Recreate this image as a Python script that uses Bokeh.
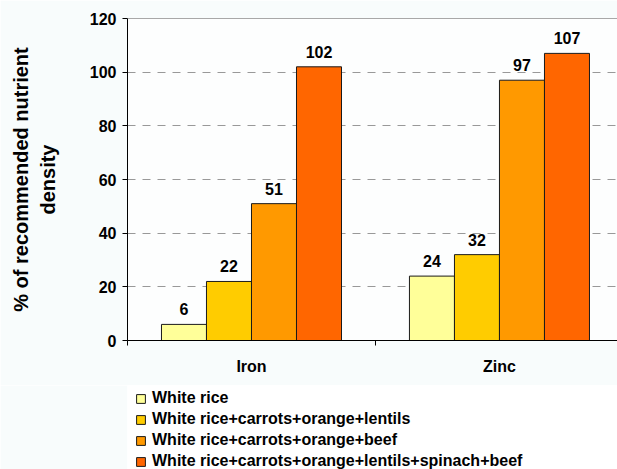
import numpy as np
from bokeh.plotting import figure
from bokeh.layouts import column
from bokeh.models import (ColumnDataSource, Range1d, FixedTicker, Span,
                          LabelSet, Legend, LegendItem)
from bokeh.core.properties import value
from bokeh.embed import file_html
from bokeh.resources import INLINE

# Nutrient density data, % of recommended
nutrients = ["Iron", "Zinc"]
diets = [
    "White rice",
    "White rice+carrots+orange+lentils",
    "White rice+carrots+orange+beef",
    "White rice+carrots+orange+lentils+spinach+beef",
]
iron = [6, 22, 51, 102]
zinc = [24, 32, 97, 107]
diet_colors = ["#FFFF99", "#FFCC00", "#FF9900", "#FF6600"]
y_ticks = [0, 20, 40, 60, 80, 100, 120]

FONT = "Liberation Sans"
BAR_W = 0.1815          # width of one bar in category units
X_END = 1.976           # plot area runs slightly past the last category
BG = "#f8fcfc"
BAR_LINE = "#1a1a1a"

p = figure(width=617, height=385, output_backend="svg", toolbar_location=None,
           x_range=Range1d(0, X_END), y_range=Range1d(0, 120),
           min_border_left=127, min_border_right=0,
           min_border_top=18, min_border_bottom=45)
p.border_fill_color = BG
p.background_fill_color = "#fdfefe"
p.outline_line_color = None

values_by_nutrient = [iron, zinc]
for i, (diet, color) in enumerate(zip(diets, diet_colors)):
    xs = [k + 0.5 + (i - 1.5) * BAR_W for k in range(len(nutrients))]
    tops = [vals[i] for vals in values_by_nutrient]
    src = ColumnDataSource(dict(x=xs, top=tops, label=[str(v) for v in tops]))
    p.vbar(x="x", top="top", width=BAR_W, source=src,
           fill_color=color, line_color=BAR_LINE, line_width=1)
    p.add_layout(LabelSet(x="x", y="top", text="label", source=src,
                          y_offset=9, text_align="center", text_baseline="bottom",
                          text_font=value(FONT), text_font_size="16px",
                          text_font_style="bold", text_color="#000000"))

# Y axis
yax = p.yaxis[0]
yax.ticker = FixedTicker(ticks=y_ticks)
yax.major_tick_out = 5
yax.major_tick_in = 0
yax.minor_tick_out = 0
yax.minor_tick_in = 0
yax.major_tick_line_color = "#000000"
yax.axis_line_color = "#000000"
yax.major_label_standoff = 6
yax.major_label_text_font = FONT
yax.major_label_text_font_size = "16px"
yax.major_label_text_font_style = "bold"
yax.major_label_text_color = "#000000"
yax.axis_label = "% of recommended nutrient\ndensity"
yax.axis_label_text_font = FONT
yax.axis_label_text_font_size = "20px"
yax.axis_label_text_font_style = "bold"
yax.axis_label_text_color = "#000000"
yax.axis_label_standoff = 28

# X axis: category names between boundary ticks
xax = p.xaxis[0]
xax.ticker = FixedTicker(ticks=[k + 0.5 for k in range(len(nutrients))],
                         minor_ticks=list(range(len(nutrients) + 1)))
xax.major_label_overrides = {k + 0.5: n for k, n in enumerate(nutrients)}
xax.major_tick_out = 0
xax.major_tick_in = 0
xax.minor_tick_out = 5
xax.minor_tick_in = 0
xax.minor_tick_line_color = "#000000"
xax.axis_line_color = "#000000"
xax.major_label_standoff = 12
xax.major_label_text_font = FONT
xax.major_label_text_font_size = "16px"
xax.major_label_text_font_style = "bold"
xax.major_label_text_color = "#000000"

# Grid
p.xgrid.visible = False
p.ygrid.ticker = FixedTicker(ticks=y_ticks[1:-1])
p.ygrid.grid_line_color = "#999999"
p.ygrid.grid_line_dash = "8 7"
p.ygrid.grid_line_width = 1
p.add_layout(Span(location=120, dimension="width", line_color="#555555", line_width=1))

# Legend panel underneath the chart (white box with the diet key)
lg = figure(width=617, height=84, output_backend="svg", toolbar_location=None,
            x_range=Range1d(0, 1), y_range=Range1d(0, 1),
            x_axis_type=None, y_axis_type=None,
            min_border_left=127, min_border_right=0,
            min_border_top=0, min_border_bottom=0)
lg.border_fill_color = BG
lg.background_fill_color = "#ffffff"
lg.outline_line_color = None
lg.grid.visible = False

# key swatches: a NaN bar per diet, so only its legend glyph is drawn
key_renderers = [lg.vbar(x=np.array([np.nan]), top=np.array([np.nan]), width=0.1,
                         fill_color=c, line_color=BAR_LINE, line_width=1)
                 for c in diet_colors]
legend = Legend(items=[LegendItem(label=d, renderers=[r])
                       for d, r in zip(diets, key_renderers)],
                location=(8, -1), orientation="vertical",
                glyph_width=11, glyph_height=11, label_standoff=6,
                label_height=12, spacing=3, padding=0, margin=0,
                label_text_font=FONT, label_text_font_size="16px",
                label_text_font_style="bold", label_text_color="#000000",
                border_line_alpha=0, background_fill_alpha=0)
lg.add_layout(legend)

layout = column(p, lg, spacing=0)
open("out.html", "w").write(file_html(layout, INLINE))
